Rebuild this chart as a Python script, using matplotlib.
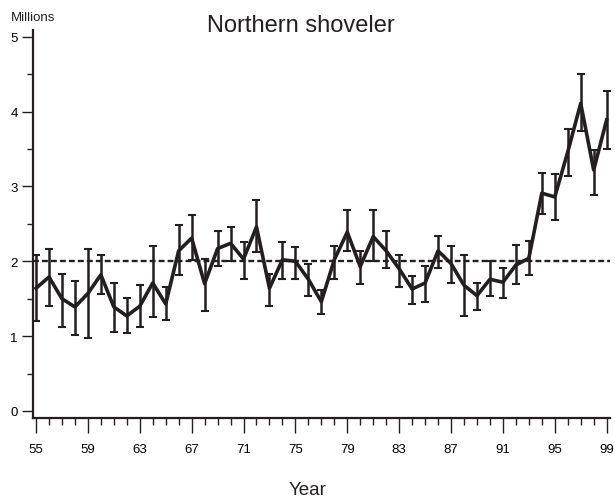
import matplotlib
matplotlib.use("Agg")
import matplotlib.pyplot as plt
from matplotlib.ticker import MultipleLocator

# breeding population estimates, millions
years = list(range(1955, 2000))
estimate = [1.64, 1.79, 1.50, 1.39, 1.57, 1.82, 1.39, 1.27, 1.40, 1.71,
            1.43, 2.14, 2.31, 1.70, 2.17, 2.24, 2.03, 2.46, 1.64, 2.02,
            2.00, 1.76, 1.46, 2.02, 2.39, 1.93, 2.33, 2.14, 1.90, 1.63,
            1.71, 2.14, 1.97, 1.68, 1.54, 1.76, 1.72, 1.95, 2.04, 2.91,
            2.86, 3.46, 4.11, 3.22, 3.89]
upper = [2.08, 2.17, 1.83, 1.74, 2.17, 2.08, 1.71, 1.51, 1.68, 2.20,
         1.66, 2.48, 2.62, 2.03, 2.40, 2.46, 2.26, 2.82, 1.83, 2.26,
         2.19, 1.97, 1.61, 2.20, 2.68, 2.14, 2.68, 2.40, 2.08, 1.80,
         1.94, 2.34, 2.20, 2.09, 1.71, 2.01, 1.91, 2.22, 2.27, 3.18,
         3.16, 3.77, 4.50, 3.49, 4.28]
lower = [1.20, 1.40, 1.12, 1.02, 0.98, 1.56, 1.05, 1.04, 1.12, 1.25,
         1.21, 1.82, 2.02, 1.34, 1.94, 2.01, 1.77, 2.12, 1.40, 1.77,
         1.77, 1.54, 1.29, 1.76, 2.14, 1.69, 2.01, 1.91, 1.66, 1.43,
         1.46, 1.91, 1.71, 1.27, 1.35, 1.53, 1.51, 1.69, 1.82, 2.63,
         2.55, 3.14, 3.74, 2.89, 3.50]
goal = 2.0
x_labels = ["55", "59", "63", "67", "71", "75", "79", "83", "87", "91", "95", "99"]

ink = "#231f20"
plt.rcParams["font.family"] = ["Liberation Sans", "DejaVu Sans"]

fig = plt.figure(figsize=(6.15, 5.02), dpi=100)
ax = fig.add_axes([0.0537, 0.1653, 0.9382, 0.7729])

x = [y - 1900 for y in years]
err_lo = [e - l for e, l in zip(estimate, lower)]
err_hi = [u - e for e, u in zip(estimate, upper)]

ax.axhline(goal, color=ink, lw=1.7, ls=(0, (2.5, 1.3)), zorder=1)
ax.errorbar(x, estimate, yerr=[err_lo, err_hi], color=ink, lw=2.6,
            elinewidth=1.8, capsize=2.9, capthick=1.5, zorder=2)

ax.set_xlim(54.77, 99.26)
ax.set_ylim(-0.094, 5.09)

for side in ("top", "right"):
    ax.spines[side].set_visible(False)
for side in ("left", "bottom"):
    ax.spines[side].set_linewidth(1.6)
    ax.spines[side].set_color(ink)

ax.set_xticks(range(55, 100, 4))
ax.set_xticklabels(x_labels)
ax.xaxis.set_minor_locator(MultipleLocator(1))
ax.set_yticks(range(0, 6))
ax.yaxis.set_minor_locator(MultipleLocator(0.5))
ax.tick_params(axis="x", which="major", length=10.8, width=1.0, color=ink,
               labelsize=9.5, pad=7, direction="out")
ax.tick_params(axis="x", which="minor", length=5, width=1.0, color=ink,
               direction="out")
ax.tick_params(axis="y", which="major", length=8, width=1.0, color=ink,
               labelsize=9.5, pad=3, direction="out")
ax.tick_params(axis="y", which="minor", length=4.3, width=1.0, color=ink,
               direction="out")

fig.text(0.49, 0.948, "Northern shoveler", ha="center", va="center",
         fontsize=17, color=ink)
fig.text(0.017, 0.965, "Millions", ha="left", va="center", fontsize=9.5,
         color=ink)
fig.text(0.50, 0.022, "Year", ha="center", va="center", fontsize=13.5,
         color=ink)

fig.savefig("out.png", dpi=100)
